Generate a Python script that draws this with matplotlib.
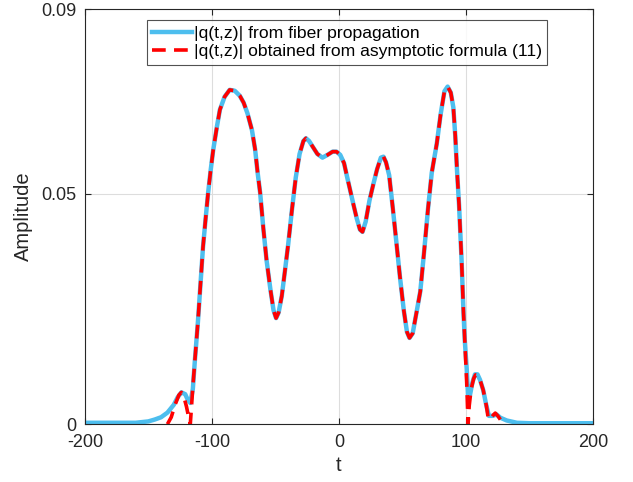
import matplotlib.pyplot as plt

plt.rcParams['font.family'] = ['Liberation Sans', 'DejaVu Sans']
plt.rcParams['axes.unicode_minus'] = False

# |q(t,z)| from fiber propagation
blue_t = [-200, -160, -150, -145, -140, -135, -130, -127, -124, -121, -119, -117,
          -115, -113.4, -111, -109, -107, -105, -103, -101, -99, -96, -93.7, -90,
          -86, -82, -78, -75, -72, -68.5, -66, -64, -62, -59.5, -57, -54, -51.5,
          -49.5, -47.5, -45, -42.5, -40, -37, -34, -31, -28, -26, -23.5, -20.5,
          -17, -13, -9, -5, -2, 1, 4, 6.5, 9, 11.5, 14, 16.5, 18.5, 21, 24, 27,
          30, 33, 35, 37, 39.5, 42.5, 45, 48, 51, 53.5, 55.5, 58, 61, 64, 67, 70,
          73, 77, 80, 83, 85.5, 88, 90, 91.5, 93, 94.5, 96.5, 98, 99, 100.5,
          101.6, 103, 105, 107, 109, 111, 113.5, 116, 118, 121, 124, 127, 132,
          140, 150, 200]
blue_y = [0.0003, 0.0003, 0.0006, 0.001, 0.0015, 0.0025, 0.0042, 0.0058, 0.0069,
          0.0065, 0.0053, 0.0046, 0.0076, 0.0138, 0.0222, 0.0303, 0.0384, 0.0444,
          0.0501, 0.0550, 0.0594, 0.0646, 0.0682, 0.0710, 0.0725, 0.0723, 0.0712,
          0.0697, 0.0674, 0.0638, 0.0596, 0.0545, 0.0501, 0.0424, 0.0356, 0.0293,
          0.0247, 0.0230, 0.0242, 0.0278, 0.0333, 0.0389, 0.0465, 0.0535, 0.0586,
          0.0614, 0.0620, 0.0614, 0.0601, 0.0586, 0.0578, 0.0584, 0.0591, 0.0591,
          0.0584, 0.0566, 0.0535, 0.0505, 0.0475, 0.0446, 0.0422, 0.0417, 0.0439,
          0.0485, 0.0520, 0.0553, 0.0578, 0.0580, 0.0568, 0.0540, 0.0465, 0.0399,
          0.0319, 0.0247, 0.0200, 0.0187, 0.0197, 0.0242, 0.0288, 0.0374, 0.0465,
          0.0545, 0.0609, 0.0672, 0.0722, 0.0732, 0.0719, 0.0687, 0.0626, 0.0545,
          0.0475, 0.0354, 0.0242, 0.0182, 0.0121, 0.0060, 0.0062, 0.0090, 0.0108,
          0.0108, 0.0096, 0.0074, 0.0040, 0.0018, 0.0018, 0.0021, 0.0014, 0.0008,
          0.0003, 0.0002, 0.0002]

# |q(t,z)| from the asymptotic formula: own edges, same body as above
red_left_t = [-135, -132, -129, -126, -124, -122, -120, -118.5, -117, -116, -115]
red_left_y = [0.0, 0.0015, 0.0042, 0.0063, 0.0069, 0.0059, 0.0038, 0.0018, 0.0,
              0.0040, 0.0081]
red_right_t = [100.5, 101.6, 102.5, 104, 106, 107.5, 109, 111, 113.5, 116, 117.5,
               119, 121.5, 123, 125, 127]
red_right_y = [0.0091, 0.0, 0.0040, 0.0076, 0.0099, 0.0107, 0.0106, 0.0096, 0.0074,
               0.0040, 0.0012, 0.0010, 0.0020, 0.0024, 0.0018, 0.0010]

i0 = blue_t.index(-113.4)
i1 = blue_t.index(99) + 1
red_t = red_left_t + blue_t[i0:i1] + red_right_t
red_y = red_left_y + blue_y[i0:i1] + red_right_y

fig = plt.figure(figsize=(6.33, 4.82), dpi=100)
ax = fig.add_axes([0.134, 0.120, 0.803, 0.861])

ax.plot(blue_t, blue_y, color='#4DBEEE', linewidth=3.2,
        label='|q(t,z)| from fiber propagation')
ax.plot(red_t, red_y, color='red', linewidth=2.6, dashes=(3.8, 2.3),
        label='|q(t,z)| obtained from asymptotic formula (11)')

ax.set_xlim(-200, 200)
ax.set_ylim(0, 0.09)
ax.set_xticks([-200, -100, 0, 100, 200])
ax.set_yticks([0, 0.05, 0.09])
ax.set_yticklabels(['0', '0.05', '0.09'])
ax.grid(True, color='#dddddd', linewidth=0.8)
ax.set_axisbelow(True)
ax.tick_params(direction='in', top=True, right=True, labelsize=13, length=4,
               color='#262626', labelcolor='#262626')
ax.tick_params(axis='y', pad=6)
ax.tick_params(axis='x', pad=7)
for s in ax.spines.values():
    s.set_color('#262626')
    s.set_linewidth(0.8)

ax.set_xlabel('t', fontsize=14.5, color='#262626', labelpad=4)
ax.set_ylabel('Amplitude', fontsize=14.5, color='#262626', labelpad=6)

leg = ax.legend(loc='upper center', bbox_to_anchor=(0.516, 0.9735), fontsize=12.6,
                frameon=True, fancybox=False, edgecolor='#262626',
                handlelength=2.3, borderpad=0.3, labelspacing=0.2,
                handletextpad=0.1, borderaxespad=0)
leg.get_frame().set_linewidth(0.8)

plt.savefig('out.png')
